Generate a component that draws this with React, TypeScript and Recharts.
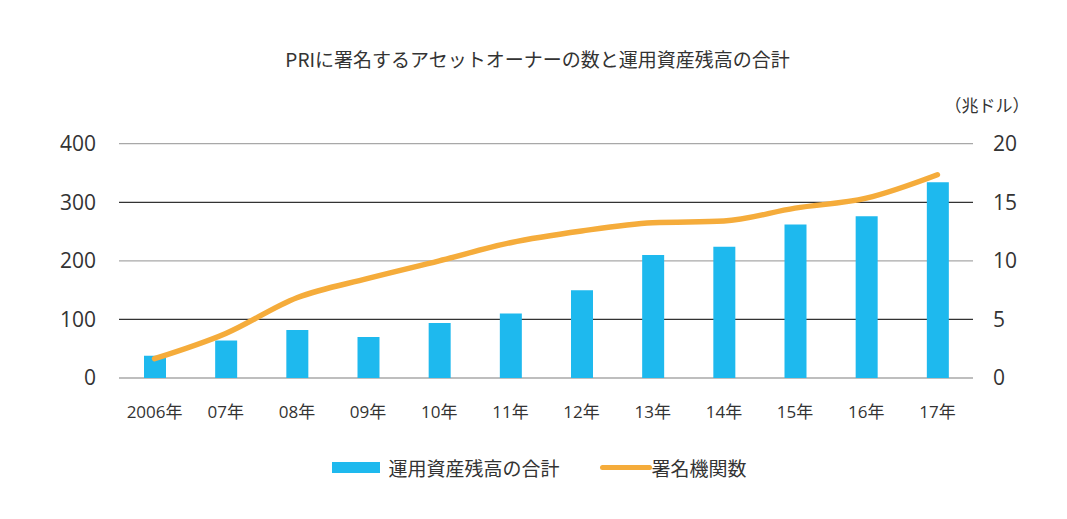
import React from 'react';
import {
  ComposedChart,
  Bar,
  Line,
  XAxis,
  YAxis,
  CartesianGrid,
  Legend,
} from 'recharts';

const YEARS = ['2006年', '07年', '08年', '09年', '10年', '11年', '12年', '13年', '14年', '15年', '16年', '17年'];
// 運用資産残高の合計 (兆ドル, right axis)
const AUM = [1.9, 3.2, 4.1, 3.5, 4.7, 5.5, 7.5, 10.5, 11.2, 13.1, 13.8, 16.7];
// 署名機関数 (left axis)
const SIGNATORIES = [33, 76, 137, 170, 200, 231, 251, 265, 268, 290, 307, 347];
const LEFT_TICKS = [0, 100, 200, 300, 400];
const RIGHT_TICKS = [0, 5, 10, 15, 20];

const BAR_COLOR = '#1EB9EE';
const LINE_COLOR = '#F5AC3B';
const TEXT_COLOR = '#333333';
const JP_FONT = '"Noto Sans CJK JP", sans-serif';
const NUM_FONT = '"Open Sans", "Noto Sans CJK JP", sans-serif';

const data = YEARS.map((year, i) => ({
  year,
  aum: AUM[i],
  signatories: SIGNATORIES[i],
}));

// grid lines alternate grey / dark (0, 200, 400 grey; 100, 300 dark)
const renderGridLine = (props: any) => {
  const stroke = props.index % 2 === 0 ? '#A8A8A8' : '#333333';
  return (
    <line
      key={props.key ?? `grid-${props.index}`}
      x1={props.x1}
      y1={props.y1}
      x2={props.x2}
      y2={props.y2}
      stroke={stroke}
      strokeWidth={1.3}
    />
  );
};

const renderLegend = () => (
  <div
    style={{
      display: 'flex',
      justifyContent: 'center',
      alignItems: 'center',
      height: 30,
      paddingLeft: 12,
      fontFamily: JP_FONT,
      fontSize: 19,
      color: TEXT_COLOR,
    }}
  >
    <span style={{ display: 'inline-block', width: 48, height: 11, background: BAR_COLOR, marginRight: 8 }} />
    <span>運用資産残高の合計</span>
    <span
      style={{
        display: 'inline-block',
        width: 52,
        height: 5,
        borderRadius: 3,
        background: LINE_COLOR,
        marginLeft: 40,
      }}
    />
    <span>署名機関数</span>
  </div>
);

const UnitLabel = (props: any) => {
  const { viewBox } = props;
  return (
    <text
      x={viewBox.x + 14}
      y={viewBox.y - 32}
      textAnchor="middle"
      fill={TEXT_COLOR}
      fontSize={17}
      fontFamily={JP_FONT}
    >
      （兆ドル）
    </text>
  );
};

export default function App() {
  return (
    <div style={{ position: 'relative', width: 1067, height: 519, margin: -8, background: '#fff' }}>
      <div
        style={{
          position: 'absolute',
          top: 45,
          left: 4,
          width: 1067,
          textAlign: 'center',
          fontFamily: JP_FONT,
          fontSize: 19,
          color: TEXT_COLOR,
        }}
      >
        PRIに署名するアセットオーナーの数と運用資産残高の合計
      </div>
      <ComposedChart
        width={1067}
        height={519}
        data={data}
        margin={{ top: 143.7, right: 0, bottom: 81, left: 0 }}
        barCategoryGap={0}
      >
        <CartesianGrid yAxisId="left" vertical={false} horizontal={renderGridLine} />
        <XAxis
          dataKey="year"
          axisLine={false}
          tickLine={false}
          height={30}
          tickMargin={22}
          tick={{ fill: TEXT_COLOR, fontSize: 17, fontFamily: NUM_FONT }}
          interval={0}
        />
        <YAxis
          yAxisId="left"
          orientation="left"
          width={119}
          domain={[0, 400]}
          ticks={LEFT_TICKS}
          axisLine={false}
          tickLine={false}
          tickMargin={17}
          tick={{ fill: TEXT_COLOR, fontSize: 21, fontFamily: NUM_FONT }}
        />
        <YAxis
          yAxisId="right"
          orientation="right"
          width={94}
          domain={[0, 20]}
          ticks={RIGHT_TICKS}
          axisLine={false}
          tickLine={false}
          tickMargin={14}
          tick={{ fill: TEXT_COLOR, fontSize: 21, fontFamily: NUM_FONT }}
          label={{ content: UnitLabel }}
        />
        <Legend
          verticalAlign="bottom"
          content={renderLegend}
          wrapperStyle={{ top: 452, left: 0, width: 1067 }}
        />
        <Bar
          yAxisId="right"
          dataKey="aum"
          name="運用資産残高の合計"
          fill={BAR_COLOR}
          barSize={22}
          isAnimationActive={false}
        />
        <Line
          yAxisId="left"
          type="monotone"
          dataKey="signatories"
          name="署名機関数"
          stroke={LINE_COLOR}
          strokeWidth={5.5}
          strokeLinecap="round"
          dot={false}
          activeDot={false}
          isAnimationActive={false}
        />
      </ComposedChart>
    </div>
  );
}
